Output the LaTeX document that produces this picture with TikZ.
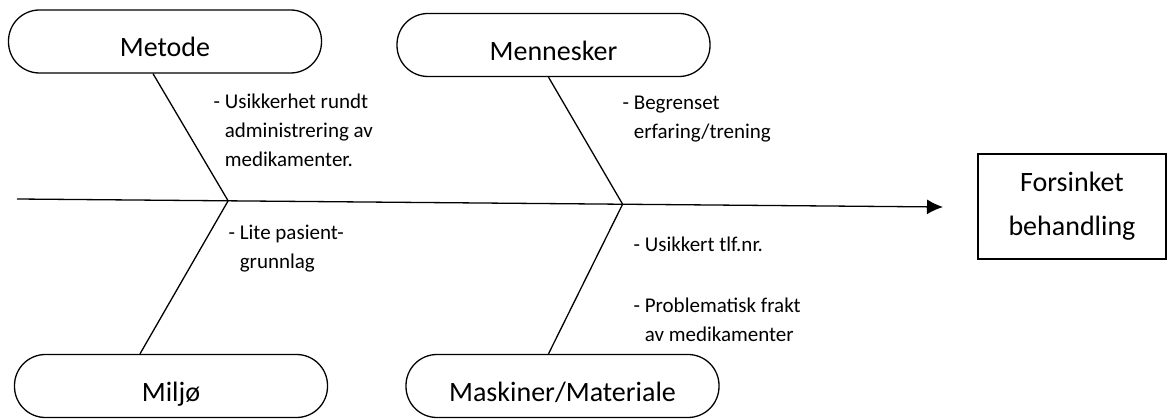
\documentclass[tikz,border=0pt]{standalone}
\usepackage{fontspec}
\setmainfont{Carlito}
\usepackage{tikz}
\usetikzlibrary{arrows.meta,calc}
\tikzstyle{bone}=[rectangle, rounded corners=31pt, line width=1.3pt, draw=black, minimum width=313pt, minimum height=63pt, text height=31pt, text depth=0pt, font=\fontsize{28}{34}\selectfont]
\tikzstyle{effect}=[rectangle, line width=1.3pt, draw=black, minimum width=188pt, minimum height=105pt, align=center, font=\fontsize{28}{44}\selectfont]
\tikzstyle{cause}=[anchor=base west, inner sep=0pt, align=left, font=\fontsize{21}{29}\selectfont]
\newcommand{\dashpad}{\phantom{- }}

\begin{document}
\begin{tikzpicture}[x=1pt,y=-1pt,line width=1.3pt]
    \useasboundingbox (0,0) rectangle (1168,419);
    % categories and effect
    \node (metode) [bone] at (165,41.5) {Metode};
    \node (mennesker) [bone] at (553.5,45) {Mennesker};
    \node (miljo) [bone] at (171,386) {Miljø};
    \node (maskiner) [bone] at (562.5,386) {Maskiner/Materiale};
    \node (forsinket) [effect] at (1072,206.5) {Forsinket\\behandling};
    % spine
    \coordinate (tail) at (17,199);
    \coordinate (head) at (943,207);
    \path (tail) -- (head) coordinate[pos=0.228] (j1) coordinate[pos=0.654] (j2);
    \draw[-{Latex[length=16pt,width=15pt]}] (tail) -- (head);
    \draw ([xshift=-12pt]metode.south) -- (j1) -- ([xshift=-31pt]miljo.north);
    \draw ([xshift=-5pt]mennesker.south) -- (j2) -- ([xshift=-14pt]maskiner.north);
    % causes (anchored at the baseline of the last line)
    \node (usikkerhet) [cause] at (213,167) {- Usikkerhet rundt\\\dashpad administrering av\\\dashpad medikamenter.};
    \node (begrenset) [cause] at (622,139) {- Begrenset\\\dashpad erfaring/trening};
    \node (lite) [cause] at (228,269) {- Lite pasient-\\\dashpad grunnlag};
    \node (tlf) [cause] at (633,252) {- Usikkert tlf.nr.};
    \node (frakt) [cause] at (633,342) {- Problematisk frakt\\\dashpad av medikamenter};
\end{tikzpicture}
\end{document}
